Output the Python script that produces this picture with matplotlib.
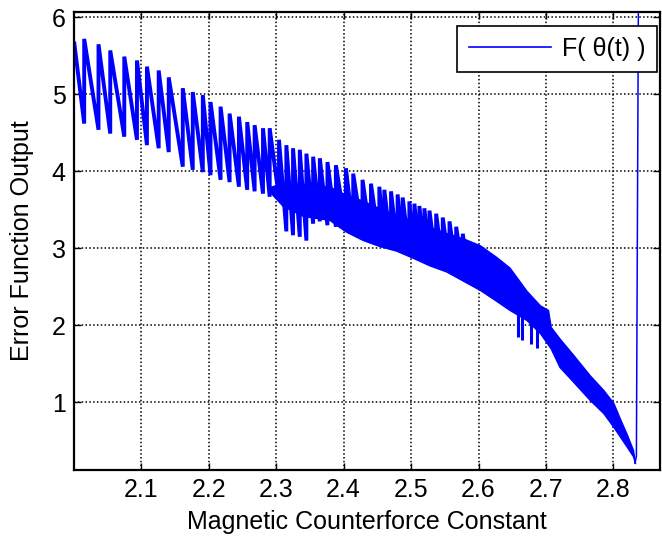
import matplotlib
matplotlib.use("Agg")
import matplotlib.pyplot as plt
from matplotlib.lines import Line2D

plt.rcParams['font.family'] = ['Liberation Sans', 'DejaVu Sans']

# ---- data ----
# saw-tooth section: tooth start x, peak value, trough value reached before next tooth
tooth_x = [2.001, 2.0156, 2.0368, 2.0542, 2.0750, 2.0938, 2.1086, 2.1260, 2.1409, 2.1617,
           2.1765, 2.1914, 2.2028, 2.2177, 2.2311, 2.2449, 2.2572, 2.2682, 2.2806, 2.2905,
           2.3043, 2.3152, 2.3251, 2.3351, 2.3449, 2.3549, 2.3648, 2.3761, 2.3886, 2.4035,
           2.4143, 2.4281, 2.4406, 2.4530, 2.4604, 2.4703, 2.4801, 2.4876, 2.4975, 2.5050,
           2.5124, 2.5198, 2.5273, 2.5372, 2.5470, 2.5570, 2.5669, 2.5767, 2.5850]
tooth_peak = [5.66, 5.72, 5.65, 5.57, 5.49, 5.44, 5.36, 5.31, 5.22, 5.08,
              5.03, 4.99, 4.90, 4.84, 4.75, 4.71, 4.64, 4.60, 4.56, 4.56,
              4.41, 4.34, 4.30, 4.28, 4.23, 4.19, 4.17, 4.12, 4.08, 4.04,
              3.97, 3.89, 3.84, 3.80, 3.76, 3.74, 3.70, 3.66, 3.61, 3.58,
              3.55, 3.52, 3.49, 3.45, 3.40, 3.35, 3.28, 3.19]
tooth_trough = [4.62, 4.54, 4.49, 4.45, 4.41, 4.34, 4.30, 4.25, 4.06, 4.02,
                3.99, 3.95, 3.89, 3.86, 3.80, 3.76, 3.74, 3.71, 3.67, 3.65,
                3.22, 3.17, 3.15, 3.10, 3.32, 3.35, 3.30, 3.28, 3.26, 3.22,
                3.18, 3.12, 3.08, 3.04, 3.02, 3.00, 2.97, 2.95, 2.92, 2.90,
                2.88, 2.85, 2.82, 2.78, 2.75, 2.72, 2.70, 2.62]

# dense oscillation band: envelope
band_x = [2.292, 2.310, 2.340, 2.379, 2.403, 2.428, 2.453, 2.478, 2.502, 2.527, 2.552,
          2.577, 2.602, 2.626, 2.646, 2.671, 2.691, 2.703, 2.707, 2.720, 2.740,
          2.765, 2.785, 2.800, 2.810, 2.820, 2.829, 2.832]
band_upper = [3.80, 3.85, 3.84, 3.80, 3.70, 3.62, 3.52, 3.43, 3.36, 3.28, 3.20,
              3.13, 3.04, 2.89, 2.75, 2.45, 2.26, 2.20, 1.98, 1.83, 1.62,
              1.35, 1.16, 0.99, 0.78, 0.58, 0.38, 0.21]
band_lower = [3.72, 3.55, 3.42, 3.37, 3.22, 3.11, 3.03, 2.97, 2.88, 2.78, 2.70,
              2.58, 2.46, 2.32, 2.20, 2.07, 1.90, 1.75, 1.70, 1.46, 1.27,
              1.03, 0.86, 0.68, 0.55, 0.42, 0.30, 0.21]

# isolated downward spikes below the band
dip_x = [2.658, 2.665, 2.678, 2.687]
dip_top = [2.15, 2.12, 2.08, 2.02]
dip_bottom = [1.85, 1.81, 1.76, 1.70]

# final jump
tail_x = [2.832, 2.834, 2.837]
tail_y = [0.21, 0.30, 6.30]

x_ticks = [2.1, 2.2, 2.3, 2.4, 2.5, 2.6, 2.7, 2.8]
y_ticks = [1, 2, 3, 4, 5, 6]
legend_label = 'F( θ(t) )'
x_label = 'Magnetic Counterforce Constant'
y_label = 'Error Function Output'

# ---- build saw-tooth polyline ----
px, py = [], []
for i in range(len(tooth_peak)):
    px.append(tooth_x[i]); py.append(tooth_peak[i])
    px.append(tooth_x[i + 1]); py.append(tooth_trough[i])

fig = plt.figure(figsize=(6.62, 5.42), dpi=100)
ax = fig.add_axes([0.1118, 0.1328, 0.8852, 0.8456])

blue = (0, 0, 1)
ax.fill_between(band_x, band_lower, band_upper, color=blue, lw=1.0, zorder=3)
ax.plot(px, py, color=blue, lw=2.8, solid_joinstyle='miter', zorder=3)
ax.vlines(dip_x, dip_bottom, dip_top, color=blue, lw=2.2, zorder=3)
ax.plot(tail_x, tail_y, color=blue, lw=1.1, zorder=3)

ax.set_xlim(2.0005, 2.869)
ax.set_ylim(0.121, 6.073)
ax.set_xticks(x_ticks)
ax.set_xticklabels([f'{v:.1f}' for v in x_ticks])
ax.set_yticks(y_ticks)
ax.set_yticklabels([str(v) for v in y_ticks])

ax.grid(True, color='black', linestyle=(0, (1.0, 1.5)), linewidth=1.1)
ax.set_axisbelow(True)
for s in ax.spines.values():
    s.set_linewidth(1.6)
    s.set_zorder(5)
ax.tick_params(direction='in', length=5, width=1.0, top=True, right=True,
               labelsize=18, pad=6)

ax.set_xlabel(x_label, fontsize=18)
ax.set_ylabel(y_label, fontsize=18)
ax.xaxis.set_label_coords(0.5, -0.088)
ax.yaxis.set_label_coords(-0.068, 0.5)

h = Line2D([], [], color=blue, lw=1.2)
leg = ax.legend([h], [legend_label], loc='upper right', bbox_to_anchor=(0.995, 0.969),
                borderaxespad=0, fontsize=18, handlelength=3.3, handletextpad=0.45,
                borderpad=0.45, fancybox=False, framealpha=1, edgecolor='black')
leg.get_frame().set_linewidth(1.2)
leg.set_zorder(6)

fig.savefig('out.png', dpi=100)
